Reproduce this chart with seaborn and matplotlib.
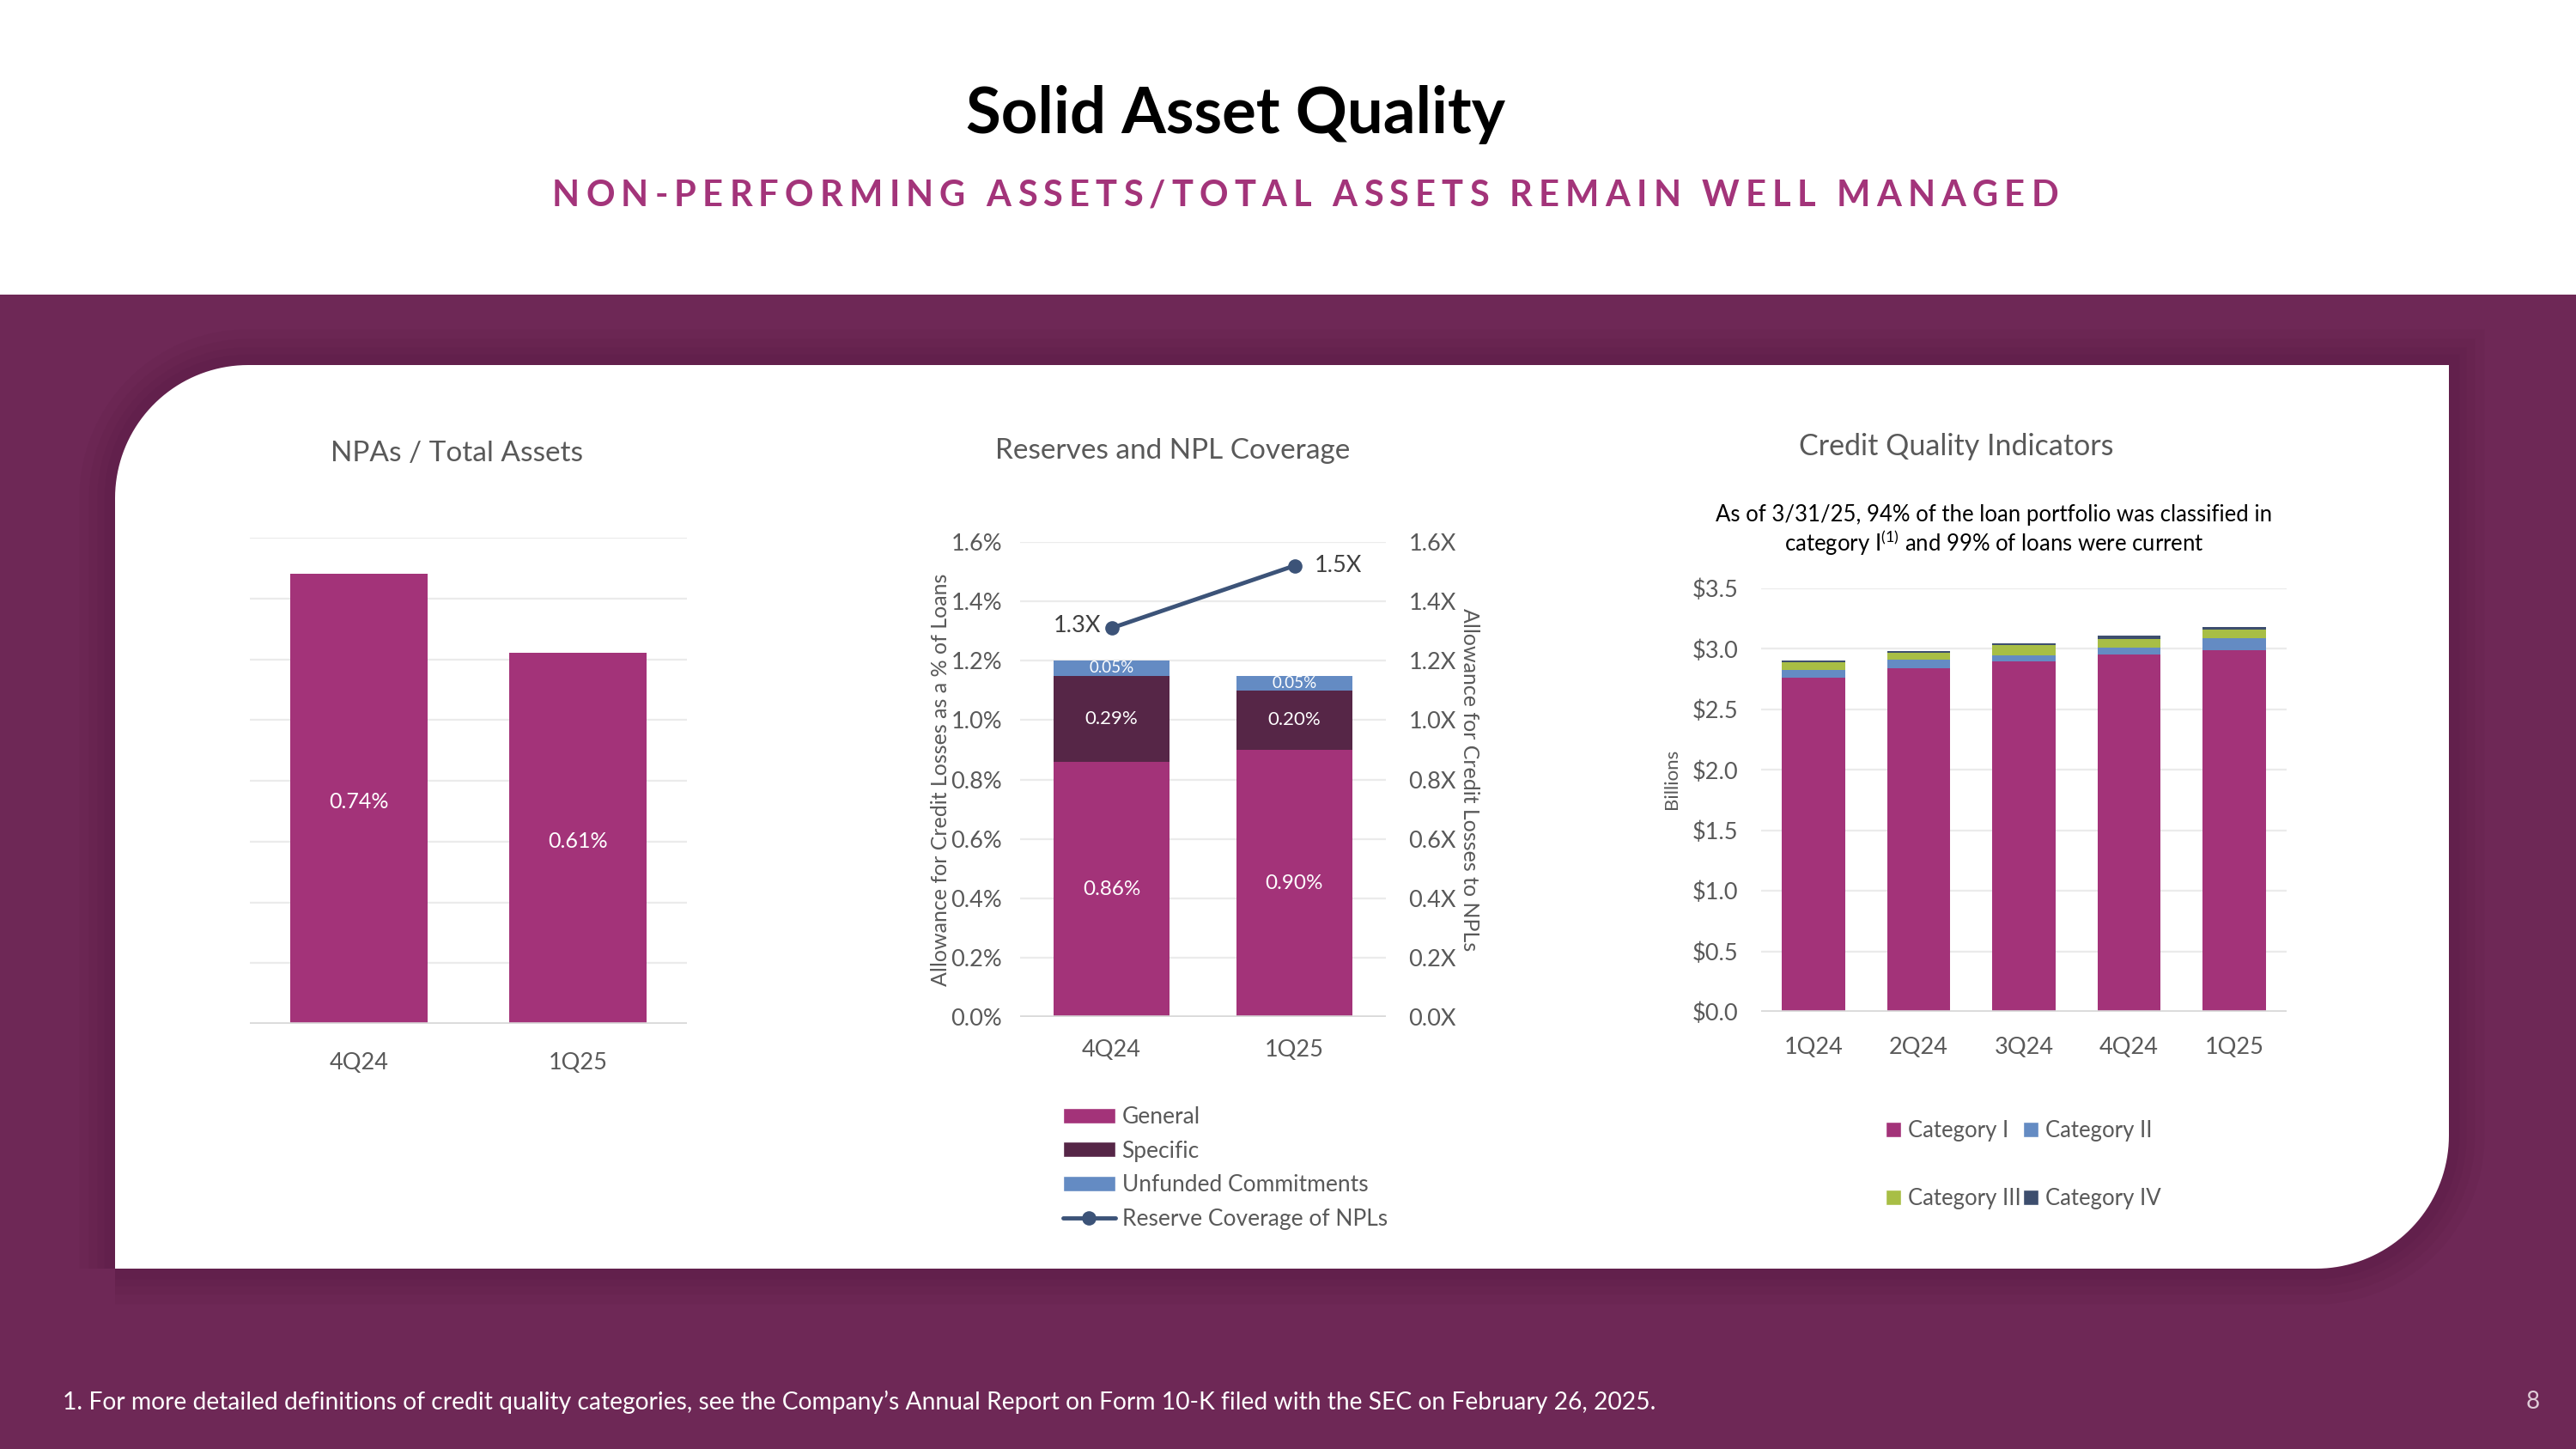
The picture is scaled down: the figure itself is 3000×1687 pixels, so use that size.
import numpy as np
import matplotlib
matplotlib.use('Agg')
import matplotlib.pyplot as plt
import seaborn as sns
from matplotlib.patches import Rectangle, PathPatch, Patch
from matplotlib.path import Path
from matplotlib.lines import Line2D

#-- Data:

npa_quarters = ['4Q24', '1Q25']
npa_ratio = [0.74, 0.61]

res_quarters = ['4Q24', '1Q25']
res_general = [0.86, 0.90]
res_specific = [0.29, 0.20]
res_unfunded = [0.05, 0.05]
npl_coverage = [1.31, 1.52]
coverage_labels = ['1.3X', '1.5X']

cq_quarters = ['1Q24', '2Q24', '3Q24', '4Q24', '1Q25']
cat_1 = [2.76, 2.84, 2.90, 2.95, 2.99]
cat_2 = [0.064, 0.068, 0.045, 0.057, 0.097]
cat_3 = [0.064, 0.057, 0.085, 0.073, 0.073]
cat_4 = [0.017, 0.019, 0.018, 0.028, 0.024]
cat_names = ['Category I', 'Category II', 'Category III', 'Category IV']

#-- Colors:

MAGENTA = '#A33379'
PLUM = '#562647'
BLUE = '#648BC3'
NAVY = '#3C5378'
GREEN = '#A8BE45'
SLATE = '#3D4E6E'
BAND = '#6E2856'
GREY_TXT = '#595959'
GRID = '#EBEBEB'
BASE = '#D9D9D9'

sns.set_style('white')
plt.rcParams['font.family'] = ['Lato', 'DejaVu Sans']
plt.rcParams['mathtext.fontset'] = 'custom'
plt.rcParams['mathtext.rm'] = 'Lato'

W, H = 3000, 1687
fig = plt.figure(figsize=(30, 16.87), dpi=100)
fig.patch.set_facecolor('white')
renderer = fig.canvas.get_renderer()


def fx(px):
    return px / W


def fy(py):
    return 1 - py / H


def text_width(s, **kw):
    t = fig.text(0, 0, s, **kw)
    w = t.get_window_extent(renderer=renderer).width
    t.remove()
    return w


#-- Slide background:

fig.add_artist(Rectangle((0, 0), 1, fy(343), transform=fig.transFigure,
                         facecolor=BAND, edgecolor='none', zorder=-5))

L, T, R, B, rad = 134, 425, 2852, 1477, 155
t1 = np.linspace(np.pi, 1.5 * np.pi, 40)
t2 = np.linspace(0, 0.5 * np.pi, 40)
pts = [(L, B), (L, T + rad)]
pts += [(L + rad + rad * np.cos(t), T + rad + rad * np.sin(t)) for t in t1]
pts += [(R, T), (R, B - rad)]
pts += [(R - rad + rad * np.cos(t), B - rad + rad * np.sin(t)) for t in t2]
pts += [(L, B)]
panel = Path([(fx(x), fy(y)) for x, y in pts])

# soft shadow round the white card
for lw in [60, 44, 30, 18]:
    fig.add_artist(PathPatch(panel, transform=fig.transFigure, facecolor='none',
                             edgecolor='#3A0E2B', linewidth=lw, alpha=0.05, zorder=-4.5))
fig.add_artist(PathPatch(panel, transform=fig.transFigure,
                         facecolor='white', edgecolor='none', zorder=-4))

#-- Titles:

title = 'Solid Asset Quality'
title_kw = dict(fontweight='bold', color='black', ha='center', va='center')
tsize = 50 * 629 / text_width(title, fontsize=50, **title_kw)
fig.text(fx(1439), fy(133), title, fontsize=tsize, **title_kw)

subtitle = 'NON-PERFORMING ASSETS/TOTAL ASSETS REMAIN WELL MANAGED'
sub_kw = dict(fontsize=30, fontweight='bold', color='#A3347A', va='center', ha='left')
bar_w = text_width('I', **sub_kw)
adv = [0.0] + [text_width(subtitle[:i] + 'I', **sub_kw) - bar_w for i in range(1, len(subtitle) + 1)]
gap = (1754 - adv[-1]) / (len(subtitle) - 1)
for i, ch in enumerate(subtitle):
    if ch != ' ':
        fig.text(fx(643 + adv[i] + i * gap), fy(228), ch, **sub_kw)

fig.text(fx(73), fy(1632), '1. For more detailed definitions of credit quality categories, see the '
         'Company\u2019s Annual Report on Form 10-K filed with the SEC on February 26, 2025.',
         fontsize=20.3, color='white', ha='left', va='center')
fig.text(fx(2942), fy(1632), '8', fontsize=20, color='#E0CCD8', ha='left', va='center')


def style_axis(ax):
    ax.set_facecolor('none')
    sns.despine(ax=ax, left=True, bottom=True)
    ax.yaxis.grid(True, color=GRID, linewidth=1.6)
    ax.set_axisbelow(True)
    ax.axhline(0, color=BASE, linewidth=2.6, zorder=1)
    ax.tick_params(axis='both', length=0, labelsize=19.5, colors=GREY_TXT)
    ax.set_xlabel('')


def stacked_bars(ax, cats, layers, colors, width):
    tops = np.cumsum(layers, axis=0)
    for k in range(len(layers) - 1, -1, -1):
        sns.barplot(x=cats, y=tops[k], order=cats, color=colors[k], width=width,
                    saturation=1, linewidth=0, errorbar=None, ax=ax)
    return tops


#- NPAs / Total Assets:

ax1 = fig.add_axes([fx(291), fy(1192), fx(800) - fx(291), fy(626) - fy(1192)])
sns.barplot(x=npa_quarters, y=npa_ratio, order=npa_quarters, color=MAGENTA, width=0.63,
            saturation=1, linewidth=0, errorbar=None, ax=ax1)
style_axis(ax1)
ax1.set_ylim(0, 0.8)
ax1.set_yticks(np.arange(0, 0.81, 0.1))
ax1.set_yticklabels([])
ax1.set_xlim(-0.5, 1.5)
ax1.tick_params(axis='x', pad=24)
for i, v in enumerate(npa_ratio):
    ax1.text(i, v / 2 - 0.005, f'{v:.2f}%', color='white', fontsize=18, ha='center', va='center')
fig.text(fx(532), fy(528), 'NPAs / Total Assets', fontsize=24, color=GREY_TXT,
         ha='center', va='center')

#- Reserves and NPL Coverage:

ax2 = fig.add_axes([fx(1188), fy(1184), fx(1614) - fx(1188), fy(631) - fy(1184)])
tops = stacked_bars(ax2, res_quarters, [res_general, res_specific, res_unfunded],
                    [MAGENTA, PLUM, BLUE], 0.63)
style_axis(ax2)
ax2.set_ylim(0, 1.6)
yt = np.arange(0, 1.61, 0.2)
ax2.set_yticks(yt)
ax2.set_yticklabels([f'{v:.1f}%' for v in yt])
ax2.tick_params(axis='y', pad=15)
ax2.tick_params(axis='x', pad=19)
ax2.set_xlim(-0.5, 1.5)
ax2.set_ylabel('Allowance for Credit Losses as a % of Loans', fontsize=18, color=GREY_TXT)
ax2.yaxis.set_label_coords(-0.19, 0.5)
for i in range(len(res_quarters)):
    ax2.text(i, res_general[i] / 2, f'{res_general[i]:.2f}%', color='white',
             fontsize=17.5, ha='center', va='center')
    ax2.text(i, tops[0][i] + res_specific[i] / 2, f'{res_specific[i]:.2f}%', color='white',
             fontsize=16, ha='center', va='center')
    ax2.text(i, tops[1][i] + res_unfunded[i] / 2, f'{res_unfunded[i]:.2f}%', color='white',
             fontsize=13.5, ha='center', va='center')

ax2r = ax2.twinx()
sns.lineplot(x=[0, 1], y=npl_coverage, ax=ax2r, color=NAVY, linewidth=3.5, marker='o',
             markersize=12, markeredgewidth=0)
ax2r.set_xlim(-0.5, 1.5)
ax2r.set_ylim(0, 1.6)
ax2r.set_yticks(yt)
ax2r.set_yticklabels([f'{v:.1f}X' for v in yt])
ax2r.tick_params(axis='y', length=0, labelsize=19.5, colors=GREY_TXT, pad=19)
sns.despine(ax=ax2r, left=True, bottom=True, right=True)
ax2r.set_ylabel('Allowance for Credit Losses to NPLs', fontsize=18, color=GREY_TXT,
                rotation=-90, va='center')
ax2r.yaxis.set_label_coords(1.23, 0.5)
ax2r.annotate(coverage_labels[0], (0, npl_coverage[0]), xytext=(-9, 2), textcoords='offset points',
              ha='right', va='center', fontsize=19.5, color='#404040')
ax2r.annotate(coverage_labels[1], (1, npl_coverage[1]), xytext=(17, 0), textcoords='offset points',
              ha='left', va='center', fontsize=19.5, color='#404040')
fig.text(fx(1366), fy(525), 'Reserves and NPL Coverage', fontsize=24, color=GREY_TXT,
         ha='center', va='center')

res_handles = [Patch(facecolor=MAGENTA), Patch(facecolor=PLUM), Patch(facecolor=BLUE),
               Line2D([], [], color=NAVY, linewidth=3.5, marker='o', markersize=12,
                      markeredgewidth=0)]
fig.legend(res_handles, ['General', 'Specific', 'Unfunded Commitments', 'Reserve Coverage of NPLs'],
           loc='upper left', bbox_to_anchor=(fx(1238), fy(1288)), frameon=False, fontsize=19,
           labelcolor=GREY_TXT, handlelength=2.3, handleheight=0.65, handletextpad=0.3,
           labelspacing=0.55, borderpad=0, borderaxespad=0)

#- Credit Quality Indicators:

ax3 = fig.add_axes([fx(2051), fy(1178), fx(2663) - fx(2051), fy(685) - fy(1178)])
stacked_bars(ax3, cq_quarters, [cat_1, cat_2, cat_3, cat_4], [MAGENTA, BLUE, GREEN, SLATE], 0.6)
style_axis(ax3)
ax3.set_ylim(0, 3.5)
yt3 = np.arange(0, 3.51, 0.5)
ax3.set_yticks(yt3)
ax3.set_yticklabels([f'${v:.1f}' for v in yt3])
ax3.tick_params(axis='y', pad=19)
ax3.tick_params(axis='x', pad=21)
ax3.set_xlim(-0.5, 4.5)
ax3.set_ylabel('Billions', fontsize=16, color=GREY_TXT)
ax3.yaxis.set_label_coords(-0.154, 0.55)
fig.text(fx(2278), fy(520), 'Credit Quality Indicators', fontsize=24.5, color=GREY_TXT,
         ha='center', va='center')
fig.text(fx(2322), fy(618), 'As of 3/31/25, 94% of the loan portfolio was classified in\n'
         'category I$^{\\rm (1)}$ and 99% of loans were current', fontsize=18.5, color='black',
         ha='center', va='center', linespacing=1.05)

cq_colors = [MAGENTA, BLUE, GREEN, SLATE]
order = [0, 2, 1, 3]
fig.legend([Patch(facecolor=cq_colors[k]) for k in order], [cat_names[k] for k in order],
           ncol=2, loc='upper left', bbox_to_anchor=(fx(2196), fy(1304)), frameon=False,
           fontsize=18.5, labelcolor=GREY_TXT, handlelength=0.7, handleheight=0.7,
           handletextpad=0.3, columnspacing=0.1, labelspacing=2.1, borderpad=0,
           borderaxespad=0)

plt.savefig('out.png', dpi=100)
